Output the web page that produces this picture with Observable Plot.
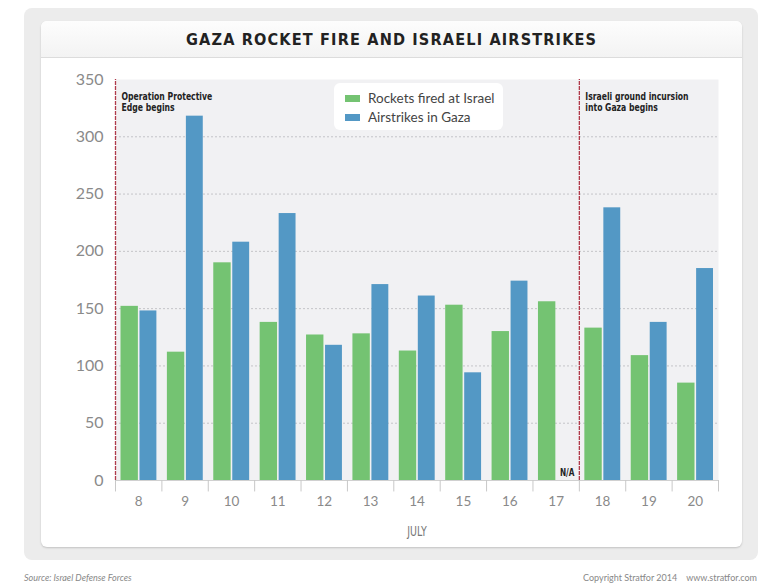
<!DOCTYPE html>
<html><head><meta charset="utf-8">
<script src="https://cdn.jsdelivr.net/npm/d3@7"></script>
<script src="https://cdn.jsdelivr.net/npm/@observablehq/plot@0.6"></script>
<style>
body{margin:0;background:#fff;width:784px;height:585px;position:relative;overflow:hidden;font-family:Lato,"Open Sans",sans-serif;}
#outer{position:absolute;left:24px;top:8px;width:734px;height:552px;background:#ececec;border-radius:8px;}
#card{position:absolute;left:41px;top:21px;width:701px;height:526px;background:#fff;border-radius:6px;box-shadow:0 1px 2px rgba(0,0,0,0.18);overflow:hidden;}
#head{position:absolute;left:0;top:0;width:701px;height:36px;background:linear-gradient(#fdfdfd,#f3f3f3);border-bottom:1px solid #dcdcdc;text-align:center;}
#title{display:inline-block;font-family:"DejaVu Sans",sans-serif;font-weight:bold;font-size:16.5px;letter-spacing:1.3px;color:#222;line-height:38px;white-space:nowrap;transform:scaleX(0.88);transform-origin:center;}
#chart{position:absolute;left:0;top:36px;}
#legend{position:absolute;left:334px;top:83px;width:169px;height:47px;background:#fff;border-radius:6px;font-size:13.5px;color:#444;}
.li{position:absolute;left:11px;height:16px;line-height:16px;white-space:nowrap;}
.sw{display:inline-block;width:15px;height:7px;margin-right:8px;vertical-align:1px;}
#src{position:absolute;left:24px;top:572px;font-size:9px;font-style:italic;color:#888;}
#copy{position:absolute;right:27px;top:572px;font-size:9px;color:#888;}
.cond{font-family:"DejaVu Sans",sans-serif;}
</style></head>
<body>
<div id="outer"></div>
<div id="card"><div id="head"><span id="title">GAZA ROCKET FIRE AND ISRAELI AIRSTRIKES</span></div><div id="chart"></div></div>
<div id="legend"></div>
<div id="src">Source: Israel Defense Forces</div>
<div id="copy">Copyright Stratfor 2014&nbsp;&nbsp;&nbsp;&nbsp;www.stratfor.com</div>
<script>
const days = ["8","9","10","11","12","13","14","15","16","17","18","19","20"];
const rockets = [152,112,190,138,127,128,113,153,130,156,133,109,85];
const airstrikes = [148,318,208,233,118,171,161,94,174,null,238,138,185];
const seriesNames = ["Rockets fired at Israel","Airstrikes in Gaza"];
const seriesColors = ["#74c372","#5398c5"];
const yTicks = [0,50,100,150,200,250,300,350];
const gridTicks = [50,100,150,200,250,300];
const events = [{day:"8", text:"Operation Protective\nEdge begins"},{day:"18", text:"Israeli ground incursion\ninto Gaza begins"}];
const naDay = "17";

const W = 701, H = 490, mL = 74, mR = 24, mT = 22, mB = 67;
const bw = (W - mL - mR) / days.length;
const rData = days.map((d,i)=>({day:d, v:rockets[i]}));
const aData = days.map((d,i)=>({day:d, v:airstrikes[i]})).filter(d=>d.v!=null);

const chart = Plot.plot({
  width: W, height: H, marginLeft: mL, marginRight: mR, marginTop: mT, marginBottom: mB,
  style: {fontFamily: 'Lato,"Open Sans",sans-serif', background: "transparent", overflow: "visible"},
  x: {domain: days, padding: 0, round: false, label: null},
  y: {domain: [0,350], label: null},
  marks: [
    Plot.frame({fill: "#f1f1f3", stroke: null}),
    Plot.ruleY(gridTicks, {stroke: "#c4c4c8", strokeDasharray: "2,2", strokeWidth: 1}),
    Plot.barY(rData, {x: "day", y: "v", fill: seriesColors[0], insetLeft: 5.5, insetRight: 23.5}),
    Plot.barY(aData, {x: "day", y: "v", fill: seriesColors[1], insetLeft: 24.5, insetRight: 5}),
    Plot.ruleY([0], {stroke: "#d0d0d0"}),
    Plot.ruleX(days, {x: d=>d, dx: -bw/2, y1: 0, y2: -10, stroke: "#c8c8c8"}),
    Plot.ruleX([days[days.length-1]], {x: d=>d, dx: bw/2, y1: 0, y2: -10, stroke: "#c8c8c8"}),
    Plot.ruleX(events, {x: "day", dx: -bw/2, y1: 0, y2: 350, stroke: "#b03a4a", strokeWidth: 1.3, strokeDasharray: "4,1"}),
    Plot.text(events, {x: "day", y: 350, text: "text", dx: -bw/2 + 6, dy: 12, textAnchor: "start", lineAnchor: "top", lineHeight: 1.05, fontSize: 11, fontWeight: "bold", fill: "#222", className: "cond"}),
    Plot.text([naDay], {x: d=>d, y: 0, text: ()=>"N/A", dx: 11, dy: -8, fontSize: 10.5, fontWeight: "bold", fill: "#222", className: "cond"}),
    Plot.axisY({ticks: yTicks, tickSize: 0, tickPadding: 12, fontSize: 16, fill: "#8a8a8a", label: null}),
    Plot.axisX({tickSize: 0, tickPadding: 16, fontSize: 13.5, fill: "#8a8a8a", label: null}),
    Plot.text(["JULY"], {frameAnchor: "bottom", dy: 55, text: d=>d, fontSize: 13.5, fill: "#777", className: "cond"})
  ]
});
document.getElementById("chart").appendChild(chart);
// narrow the condensed-style labels horizontally
d3.select(chart).selectAll("g.cond text").each(function(){
  const t = this.getAttribute("transform") || "";
  this.setAttribute("transform", t + " scale(0.7,1)");
});

const leg = document.getElementById("legend");
seriesNames.forEach((n,i)=>{
  const d = document.createElement("div");
  d.className = "li"; d.style.top = (7 + i*19) + "px";
  d.innerHTML = `<span class="sw" style="background:${seriesColors[i]}"></span>${n}`;
  leg.appendChild(d);
});
</script>
</body></html>
